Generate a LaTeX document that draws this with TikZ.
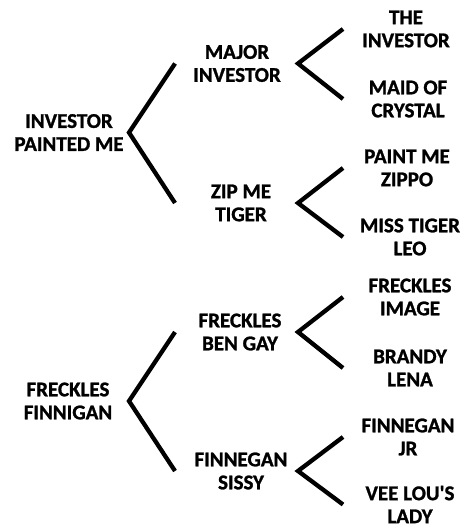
\documentclass[tikz,border=0pt]{standalone}
\usepackage{fontspec}
\setmainfont{Carlito}[Ligatures=TeXOff,BoldFeatures={FakeBold=1.2}]
\usepackage{tikz}

\begin{document}
\begin{tikzpicture}[x=1pt,y=-1pt]

	\tikzstyle horse=[align=center,inner sep=0pt,font=\bfseries\fontsize{21}{23}\selectfont];
	\tikzstyle fork lines=[line width=4.3pt,line join=miter];

	\useasboundingbox (0,0) rectangle (463,527);

	% columns of the forks
	\coordinate (a0) at (129,0);
	\coordinate (a1) at (175,0);
	\coordinate (b0) at (298,0);
	\coordinate (b1) at (343,0);

	\node[horse] (ipm) at (69,132.5) {INVESTOR\\PAINTED ME};
	\node[horse] (mi) at (237,63.5) {MAJOR\\INVESTOR};
	\node[horse] (zmt) at (241,203) {ZIP ME\\TIGER};
	\node[horse] (ti) at (406,29) {THE\\INVESTOR};
	\node[horse] (moc) at (408,99) {MAID OF\\CRYSTAL};
	\node[horse] (pmz) at (407,168) {PAINT ME\\ZIPPO};
	\node[horse] (mtl) at (410,237) {MISS TIGER\\LEO};
	\draw[fork lines] (a1 |- mi) -- (a0 |- ipm) -- (a1 |- zmt);
	\draw[fork lines] (b1 |- ti) -- (b0 |- mi) -- (b1 |- moc);
	\draw[fork lines] (b1 |- pmz) -- (b0 |- zmt) -- (b1 |- mtl);

	\node[horse] (ff) at (68,401) {FRECKLES\\FINNIGAN};
	\node[horse] (fbg) at (240,332) {FRECKLES\\BEN GAY};
	\node[horse] (fs) at (241,471) {FINNEGAN\\SISSY};
	\node[horse] (fi) at (410,297) {FRECKLES\\IMAGE};
	\node[horse] (bl) at (410,368) {BRANDY\\LENA};
	\node[horse] (fjr) at (408,437) {FINNEGAN\\JR};
	\node[horse] (vll) at (410,504.5) {VEE LOU'S\\LADY};
	\draw[fork lines] (a1 |- fbg) -- (a0 |- ff) -- (a1 |- fs);
	\draw[fork lines] (b1 |- fi) -- (b0 |- fbg) -- (b1 |- bl);
	\draw[fork lines] (b1 |- fjr) -- (b0 |- fs) -- (b1 |- vll);

\end{tikzpicture}
\end{document}
